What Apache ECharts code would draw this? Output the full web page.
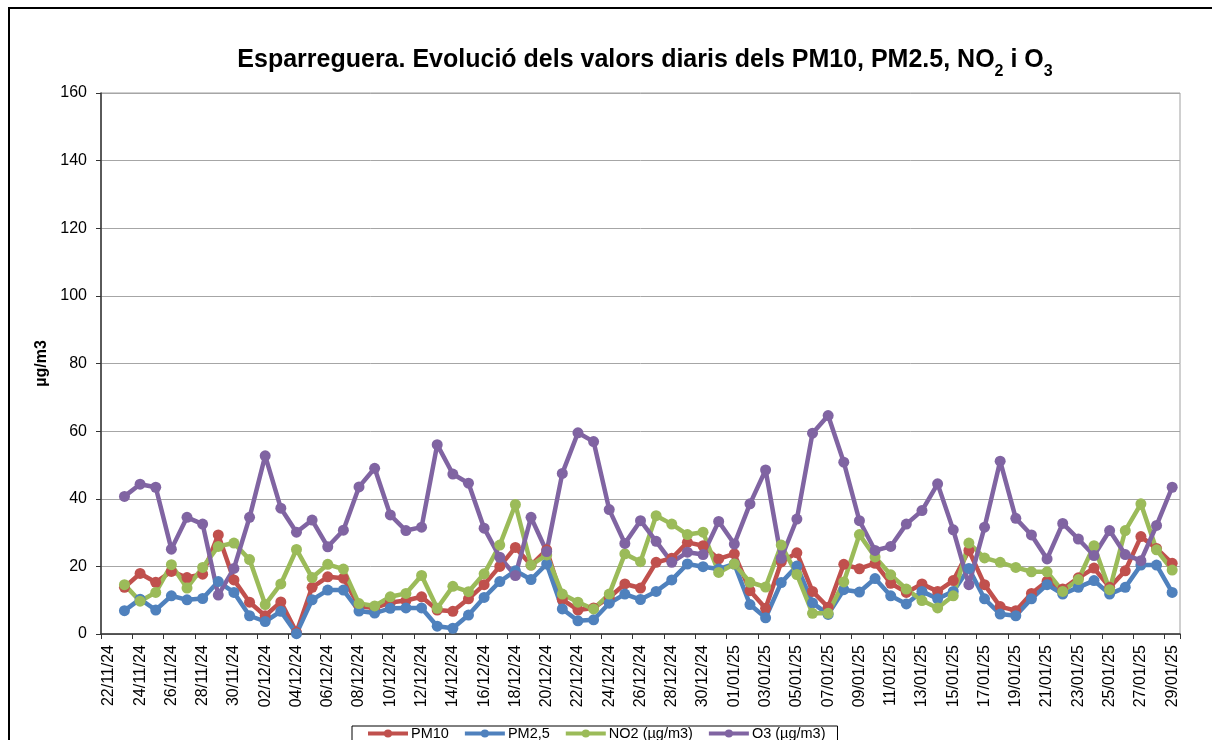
<!DOCTYPE html>
<html>
<head>
<meta charset="utf-8">
<script src="https://cdn.jsdelivr.net/npm/echarts@6/dist/echarts.min.js"></script>
<style>
html,body{margin:0;padding:0;background:#fff;}
#top{width:1212px;height:740px;}
</style>
</head>
<body>
<div id="top"></div>
<script>
var dies = ['22/11/24','23/11/24','24/11/24','25/11/24','26/11/24','27/11/24','28/11/24','29/11/24','30/11/24',
	'01/12/24','02/12/24','03/12/24','04/12/24','05/12/24','06/12/24','07/12/24','08/12/24','09/12/24','10/12/24',
	'11/12/24','12/12/24','13/12/24','14/12/24','15/12/24','16/12/24','17/12/24','18/12/24','19/12/24','20/12/24',
	'21/12/24','22/12/24','23/12/24','24/12/24','25/12/24','26/12/24','27/12/24','28/12/24','29/12/24','30/12/24','31/12/24',
	'01/01/25','02/01/25','03/01/25','04/01/25','05/01/25','06/01/25','07/01/25','08/01/25','09/01/25','10/01/25',
	'11/01/25','12/01/25','13/01/25','14/01/25','15/01/25','16/01/25','17/01/25','18/01/25','19/01/25','20/01/25',
	'21/01/25','22/01/25','23/01/25','24/01/25','25/01/25','26/01/25','27/01/25','28/01/25','29/01/25'];

var pm10 = [null,13.8,17.9,15.3,18.5,16.7,17.7,29.3,16.0,9.4,5.4,9.5,0.5,13.8,16.9,16.5,8.2,7.7,9.3,
	9.9,11.0,7.1,6.7,10.4,14.6,20.0,25.6,20.4,24.9,10.2,7.1,7.7,10.8,14.8,13.6,21.2,22.4,27.1,26.1,22.2,
	23.7,12.8,7.6,21.3,24.0,12.6,7.9,20.6,19.3,20.9,15.0,12.3,14.8,12.6,15.8,24.7,14.6,8.1,6.9,12.0,
	15.6,13.3,16.6,19.5,13.8,18.7,28.8,25.3,20.9];

var pm25 = [null,6.9,10.3,7.1,11.3,10.1,10.5,15.5,12.3,5.4,3.7,6.7,0.1,10.1,13.0,13.0,6.8,6.2,7.6,
	7.7,7.7,2.3,1.7,5.6,10.8,15.5,18.7,16.1,20.7,7.4,3.9,4.2,9.1,11.8,10.2,12.6,16.0,20.7,19.9,19.2,
	20.7,8.7,4.8,15.2,20.1,9.2,5.8,13.1,12.4,16.4,11.3,8.9,12.6,10.4,12.6,19.4,10.4,5.9,5.4,10.4,
	14.6,11.8,13.8,15.8,11.8,13.8,20.4,20.4,12.3];

var no2 = [null,14.6,9.7,12.3,20.5,13.6,19.7,25.9,26.9,22.0,8.7,14.8,25.0,16.7,20.6,19.2,9.0,8.3,11.0,
	12.0,17.3,7.6,14.1,12.5,17.8,26.3,38.3,20.4,23.4,11.8,9.4,7.4,11.8,23.7,21.4,35.0,32.5,29.4,30.1,18.2,
	20.7,15.3,13.9,26.3,17.6,6.1,6.1,15.4,29.4,22.8,17.5,13.3,9.9,7.7,11.3,26.9,22.5,21.2,19.7,18.4,
	18.4,12.6,16.1,26.1,13.1,30.6,38.5,24.9,18.9];

var o3 = [null,40.7,44.3,43.4,25.1,34.5,32.5,11.5,19.4,34.5,52.7,37.2,30.1,33.7,25.8,30.7,43.5,49.0,35.2,
	30.6,31.6,56.0,47.3,44.6,31.3,22.7,17.3,34.5,24.4,47.5,59.5,56.9,36.8,26.8,33.5,27.4,21.2,24.2,23.5,33.3,
	26.6,38.5,48.5,22.4,34.0,59.4,64.6,50.8,33.5,24.7,25.9,32.5,36.5,44.4,30.8,14.6,31.6,51.1,34.2,29.3,
	22.2,32.7,28.1,23.2,30.6,23.5,21.7,32.1,43.4];

var noms = ['PM10','PM2,5','NO2 (µg/m3)','O3 (µg/m3)'];
var colors = ['#C0504D','#4F81BD','#9BBB59','#8064A2'];

var font = 'Arial, "Liberation Sans", sans-serif';
var myChart = echarts.init(document.getElementById('top'));

function serie(nom, dades, color){
	return {
		name:nom,
		type:'line',
		data:dades,
		symbol:'circle',
		symbolSize:11,
		showAllSymbol:true,
		color:color,
		lineStyle:{width:4.5,color:color},
		itemStyle:{color:color},
		animation:false
	};
}

var option = {
	textStyle:{fontFamily:font},
	title:{
		text:'{a|Esparreguera. Evolució dels valors diaris dels PM10, PM2.5, NO}{s|2}{a| i O}{s|3}',
		left:640,
		textAlign:'center',
		top:40,
		textStyle:{
			rich:{
				a:{fontSize:25,fontWeight:'bold',color:'#000',lineHeight:30,fontFamily:font},
				s:{fontSize:16,fontWeight:'bold',color:'#000',lineHeight:16,verticalAlign:'bottom',padding:[0,0,-5,0],fontFamily:font}
			}
		}
	},
	graphic:[{
		type:'rect',
		shape:{x:9,y:8,width:1220,height:760},
		style:{fill:null,stroke:'#000',lineWidth:2},
		silent:true
	}],
	legend:{
		data:noms,
		left:352,
		top:726,
		padding:[0,12,4,14],
		borderColor:'#000',
		borderWidth:1,
		itemWidth:40,
		itemHeight:10,
		itemGap:14,
		lineStyle:{width:4},
		textStyle:{fontSize:14.5,lineHeight:14,color:'#000',fontFamily:font,padding:[0,0,0,-2]}
	},
	grid:{
		left:101,
		right:32,
		top:93,
		bottom:106,
		show:true,
		borderColor:'#a0a0a0',
		borderWidth:1
	},
	xAxis:[{
		type:'category',
		boundaryGap:true,
		data:dies,
		axisLine:{lineStyle:{color:'#333',width:1.5}},
		axisTick:{show:true,interval:1,length:5,lineStyle:{color:'#333'}},
		axisLabel:{interval:1,rotate:90,fontSize:16,color:'#000',margin:11}
	}],
	yAxis:[{
		type:'value',
		name:'µg/m3',
		nameLocation:'middle',
		nameGap:50,
		nameTextStyle:{fontSize:16,fontWeight:'bold',color:'#000'},
		min:0,
		max:160,
		interval:20,
		axisLine:{show:true,lineStyle:{color:'#333',width:1.5}},
		axisTick:{show:true,length:5,lineStyle:{color:'#333'}},
		axisLabel:{fontSize:16,color:'#000',margin:14},
		splitLine:{lineStyle:{color:'#a6a6a6',width:1}}
	}],
	series:[
		serie(noms[0], pm10, colors[0]),
		serie(noms[1], pm25, colors[1]),
		serie(noms[2], no2, colors[2]),
		serie(noms[3], o3, colors[3])
	]
};
myChart.setOption(option, true);
</script>
</body>
</html>
